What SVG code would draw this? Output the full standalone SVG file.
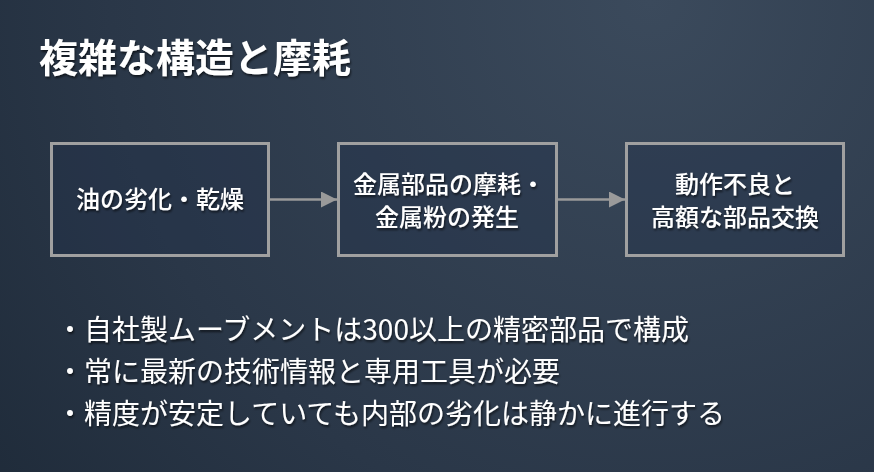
<svg xmlns="http://www.w3.org/2000/svg" width="874" height="472" viewBox="0 0 874 472">
  <defs>
    <radialGradient id="bg" cx="650" cy="0" r="900" gradientUnits="userSpaceOnUse">
      <stop offset="0" stop-color="#3b4a5c"/>
      <stop offset="0.6" stop-color="#2a3748"/>
      <stop offset="1" stop-color="#1c2836"/>
    </radialGradient>
    <filter id="sh" x="-10%" y="-10%" width="120%" height="140%">
      <feDropShadow dx="1" dy="2" stdDeviation="1.2" flood-color="#000" flood-opacity="0.6"/>
    </filter>
    <marker id="ah" viewBox="0 0 10 10" refX="10" refY="5" markerWidth="16" markerHeight="16" markerUnits="userSpaceOnUse" orient="auto">
      <path d="M0,0 L10,5 L0,10 z" fill="#9a9a9a"/>
    </marker>
    <style>
      text { font-family: "Noto Sans CJK JP", "Noto Sans", sans-serif; fill: #ffffff; }
      .title { font-size: 39px; font-weight: bold; }
      .lbl { font-size: 24px; font-weight: 500; text-anchor: middle; }
      .bul { font-size: 28px; }
      .box { fill: #22324a; fill-opacity: 0.4; stroke: #a0a0a0; stroke-width: 3; }
      .conn { stroke: #9a9a9a; stroke-width: 2.5; fill: none; }
    </style>
  </defs>
  <rect x="0" y="0" width="874" height="472" fill="url(#bg)"/>

  <text class="title" x="39" y="72" filter="url(#sh)">複雑な構造と摩耗</text>

  <g id="node1">
    <rect class="box" x="51.5" y="143.5" width="217" height="112"/>
    <text class="lbl" x="160" y="208" filter="url(#sh)">油の劣化・乾燥</text>
  </g>
  <g id="node2">
    <rect class="box" x="338.5" y="143.5" width="218" height="112"/>
    <text class="lbl" x="449" y="193" filter="url(#sh)">金属部品の摩耗・</text>
    <text class="lbl" x="447" y="226" filter="url(#sh)">金属粉の発生</text>
  </g>
  <g id="node3">
    <rect class="box" x="626.5" y="143.5" width="217" height="112"/>
    <text class="lbl" x="735" y="193" filter="url(#sh)">動作不良と</text>
    <text class="lbl" x="735" y="226" filter="url(#sh)">高額な部品交換</text>
  </g>

  <g id="connectors">
    <line class="conn" x1="270" y1="199.5" x2="337" y2="199.5" marker-end="url(#ah)"/>
    <line class="conn" x1="558" y1="199.5" x2="625" y2="199.5" marker-end="url(#ah)"/>
  </g>

  <g id="bullets" filter="url(#sh)">
    <text class="bul" x="56" y="340">・自社製ムーブメントは300以上の精密部品で構成</text>
    <text class="bul" x="56" y="382">・常に最新の技術情報と専用工具が必要</text>
    <text class="bul" x="56" y="424">・精度が安定していても内部の劣化は静かに進行する</text>
  </g>
</svg>
